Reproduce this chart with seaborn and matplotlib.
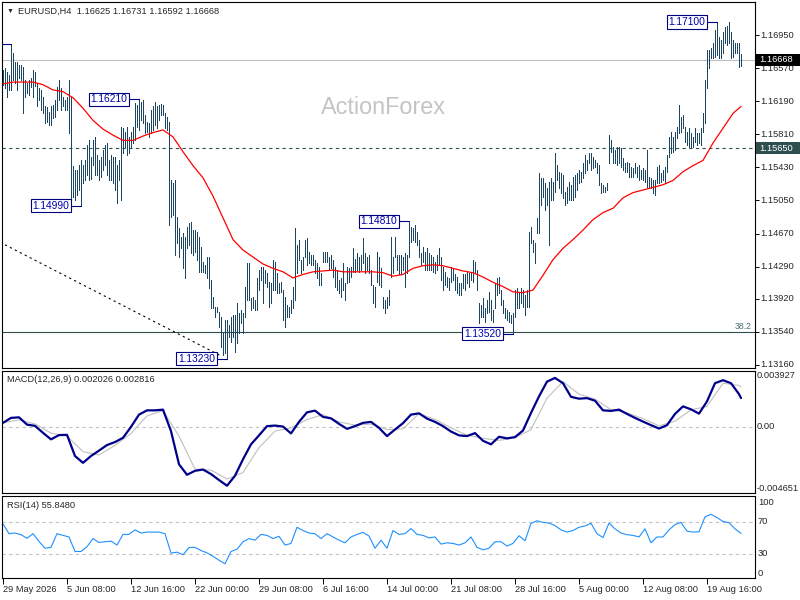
import numpy as np
import seaborn as sns
import matplotlib.pyplot as plt
import matplotlib.transforms as mtransforms
from matplotlib.patches import Rectangle

sns.set_style('white')
plt.rcParams['font.family'] = ['Liberation Sans', 'DejaVu Sans']

# EURUSD H4 bars (high / low of each bar, oldest first)
highs = [
    1.1655, 1.1657, 1.1653, 1.1649, 1.1685, 1.1674, 1.1664, 1.1664, 1.1661, 1.1661,
    1.1658, 1.1643, 1.1640, 1.1643, 1.1646, 1.1655, 1.1653, 1.1640, 1.1634, 1.1632,
    1.1624, 1.1613, 1.1612, 1.1607, 1.1613, 1.1615, 1.1620, 1.1635, 1.1643, 1.1634,
    1.1624, 1.1620, 1.1624, 1.1643, 1.1624, 1.1545, 1.1540, 1.1540, 1.1546, 1.1551,
    1.1546, 1.1551, 1.1569, 1.1574, 1.1555, 1.1574, 1.1578, 1.1557, 1.1551, 1.1555,
    1.1563, 1.1569, 1.1571, 1.1551, 1.1557, 1.1555, 1.1555, 1.1546, 1.1551, 1.1589,
    1.1588, 1.1584, 1.1589, 1.1578, 1.1584, 1.1589, 1.1617, 1.1615, 1.1621, 1.1618,
    1.1620, 1.1603, 1.1595, 1.1594, 1.1609, 1.1613, 1.1618, 1.1613, 1.1615, 1.1616,
    1.1615, 1.1605, 1.1601, 1.1595, 1.1528, 1.1525, 1.1528, 1.1486, 1.1473, 1.1463,
    1.1468, 1.1463, 1.1474, 1.1479, 1.1480, 1.1471, 1.1471, 1.1469, 1.1463, 1.1452,
    1.1434, 1.1431, 1.1440, 1.1440, 1.1414, 1.1394, 1.1383, 1.1383, 1.1377, 1.1371,
    1.1353, 1.1368, 1.1368, 1.1362, 1.1371, 1.1373, 1.1373, 1.1387, 1.1376, 1.1379,
    1.1376, 1.1406, 1.1433, 1.1433, 1.1393, 1.1394, 1.1391, 1.1416, 1.1425, 1.1429,
    1.1429, 1.1425, 1.1422, 1.1411, 1.1410, 1.1437, 1.1434, 1.1422, 1.1410, 1.1411,
    1.1402, 1.1394, 1.1385, 1.1383, 1.1391, 1.1406, 1.1473, 1.1454, 1.1460, 1.1437,
    1.1440, 1.1460, 1.1462, 1.1446, 1.1442, 1.1442, 1.1437, 1.1433, 1.1429, 1.1422,
    1.1446, 1.1446, 1.1446, 1.1440, 1.1442, 1.1437, 1.1429, 1.1425, 1.1414, 1.1416,
    1.1433, 1.1410, 1.1429, 1.1427, 1.1429, 1.1450, 1.1438, 1.1445, 1.1440, 1.1442,
    1.1462, 1.1445, 1.1440, 1.1442, 1.1425, 1.1408, 1.1406, 1.1446, 1.1440, 1.1427,
    1.1394, 1.1391, 1.1394, 1.1402, 1.1463, 1.1440, 1.1463, 1.1442, 1.1442, 1.1442,
    1.1440, 1.1445, 1.1442, 1.1481, 1.1474, 1.1473, 1.1477, 1.1469, 1.1460, 1.1445,
    1.1452, 1.1446, 1.1450, 1.1445, 1.1442, 1.1440, 1.1434, 1.1442, 1.1450, 1.1440,
    1.1429, 1.1423, 1.1417, 1.1416, 1.1429, 1.1427, 1.1420, 1.1417, 1.1410, 1.1410,
    1.1420, 1.1420, 1.1423, 1.1422, 1.1423, 1.1437, 1.1434, 1.1425, 1.1387, 1.1385,
    1.1393, 1.1381, 1.1391, 1.1400, 1.1391, 1.1379, 1.1410, 1.1416, 1.1417, 1.1402,
    1.1391, 1.1381, 1.1379, 1.1377, 1.1373, 1.1376, 1.1402, 1.1404, 1.1400, 1.1404,
    1.1402, 1.1396, 1.1402, 1.1469, 1.1474, 1.1460, 1.1456, 1.1485, 1.1537, 1.1531,
    1.1531, 1.1525, 1.1519, 1.1526, 1.1531, 1.1526, 1.1560, 1.1546, 1.1538, 1.1537,
    1.1534, 1.1515, 1.1520, 1.1526, 1.1523, 1.1532, 1.1534, 1.1537, 1.1540, 1.1538,
    1.1548, 1.1557, 1.1551, 1.1560, 1.1560, 1.1555, 1.1551, 1.1548, 1.1546, 1.1525,
    1.1523, 1.1520, 1.1525, 1.1580, 1.1574, 1.1566, 1.1563, 1.1566, 1.1566, 1.1565,
    1.1554, 1.1548, 1.1549, 1.1548, 1.1543, 1.1542, 1.1548, 1.1543, 1.1546, 1.1540,
    1.1542, 1.1540, 1.1563, 1.1532, 1.1531, 1.1528, 1.1528, 1.1543, 1.1546, 1.1537,
    1.1540, 1.1543, 1.1557, 1.1578, 1.1584, 1.1578, 1.1584, 1.1589, 1.1615, 1.1601,
    1.1603, 1.1589, 1.1584, 1.1588, 1.1583, 1.1578, 1.1588, 1.1583, 1.1583, 1.1588,
    1.1605, 1.1643, 1.1678, 1.1678, 1.1680, 1.1686, 1.1701, 1.1710, 1.1693, 1.1689,
    1.1698, 1.1704, 1.1706, 1.1710, 1.1698, 1.1689, 1.1686, 1.1686, 1.1686, 1.1673,
]
lows = [
    1.1638, 1.1634, 1.1624, 1.1632, 1.1632, 1.1643, 1.1640, 1.1632, 1.1646, 1.1643,
    1.1605, 1.1624, 1.1628, 1.1626, 1.1635, 1.1624, 1.1636, 1.1613, 1.1620, 1.1609,
    1.1605, 1.1594, 1.1595, 1.1592, 1.1592, 1.1600, 1.1601, 1.1609, 1.1620, 1.1609,
    1.1613, 1.1609, 1.1609, 1.1583, 1.1505, 1.1509, 1.1505, 1.1511, 1.1517, 1.1499,
    1.1525, 1.1528, 1.1534, 1.1528, 1.1530, 1.1546, 1.1534, 1.1534, 1.1528, 1.1532,
    1.1540, 1.1546, 1.1534, 1.1528, 1.1528, 1.1525, 1.1517, 1.1502, 1.1528, 1.1505,
    1.1560, 1.1566, 1.1557, 1.1560, 1.1566, 1.1571, 1.1574, 1.1589, 1.1586, 1.1597,
    1.1594, 1.1583, 1.1584, 1.1578, 1.1583, 1.1586, 1.1592, 1.1588, 1.1597, 1.1603,
    1.1603, 1.1588, 1.1586, 1.1477, 1.1486, 1.1488, 1.1442, 1.1456, 1.1440, 1.1450,
    1.1427, 1.1416, 1.1450, 1.1454, 1.1445, 1.1442, 1.1446, 1.1437, 1.1423, 1.1423,
    1.1423, 1.1422, 1.1416, 1.1404, 1.1381, 1.1381, 1.1371, 1.1377, 1.1360, 1.1337,
    1.1328, 1.1330, 1.1323, 1.1348, 1.1342, 1.1348, 1.1331, 1.1341, 1.1353, 1.1364,
    1.1353, 1.1371, 1.1391, 1.1391, 1.1379, 1.1381, 1.1379, 1.1379, 1.1402, 1.1414,
    1.1387, 1.1410, 1.1406, 1.1383, 1.1387, 1.1402, 1.1402, 1.1399, 1.1399, 1.1400,
    1.1368, 1.1360, 1.1371, 1.1371, 1.1376, 1.1381, 1.1391, 1.1422, 1.1437, 1.1422,
    1.1425, 1.1440, 1.1431, 1.1433, 1.1431, 1.1431, 1.1422, 1.1416, 1.1408, 1.1408,
    1.1434, 1.1434, 1.1434, 1.1425, 1.1427, 1.1417, 1.1406, 1.1402, 1.1399, 1.1394,
    1.1402, 1.1391, 1.1410, 1.1411, 1.1417, 1.1423, 1.1423, 1.1425, 1.1423, 1.1425,
    1.1433, 1.1422, 1.1425, 1.1422, 1.1408, 1.1387, 1.1383, 1.1411, 1.1408, 1.1406,
    1.1381, 1.1376, 1.1381, 1.1385, 1.1417, 1.1422, 1.1440, 1.1425, 1.1420, 1.1420,
    1.1425, 1.1406, 1.1422, 1.1440, 1.1457, 1.1460, 1.1457, 1.1454, 1.1440, 1.1431,
    1.1434, 1.1425, 1.1425, 1.1425, 1.1425, 1.1423, 1.1422, 1.1425, 1.1431, 1.1414,
    1.1402, 1.1408, 1.1406, 1.1402, 1.1411, 1.1414, 1.1402, 1.1399, 1.1396, 1.1396,
    1.1404, 1.1402, 1.1410, 1.1406, 1.1414, 1.1411, 1.1423, 1.1402, 1.1364, 1.1371,
    1.1371, 1.1365, 1.1376, 1.1377, 1.1368, 1.1365, 1.1381, 1.1396, 1.1399, 1.1385,
    1.1376, 1.1370, 1.1368, 1.1365, 1.1364, 1.1352, 1.1371, 1.1381, 1.1381, 1.1387,
    1.1383, 1.1373, 1.1383, 1.1383, 1.1456, 1.1446, 1.1433, 1.1468, 1.1468, 1.1500,
    1.1509, 1.1494, 1.1500, 1.1454, 1.1505, 1.1505, 1.1515, 1.1528, 1.1519, 1.1513,
    1.1508, 1.1500, 1.1502, 1.1505, 1.1505, 1.1505, 1.1509, 1.1517, 1.1525, 1.1526,
    1.1531, 1.1537, 1.1540, 1.1548, 1.1540, 1.1542, 1.1543, 1.1537, 1.1523, 1.1513,
    1.1515, 1.1515, 1.1517, 1.1548, 1.1561, 1.1548, 1.1548, 1.1546, 1.1548, 1.1543,
    1.1540, 1.1538, 1.1538, 1.1532, 1.1532, 1.1532, 1.1537, 1.1532, 1.1528, 1.1530,
    1.1528, 1.1526, 1.1520, 1.1520, 1.1519, 1.1513, 1.1511, 1.1525, 1.1525, 1.1526,
    1.1528, 1.1525, 1.1538, 1.1555, 1.1560, 1.1561, 1.1563, 1.1577, 1.1583, 1.1584,
    1.1588, 1.1572, 1.1569, 1.1566, 1.1565, 1.1566, 1.1572, 1.1569, 1.1571, 1.1569,
    1.1584, 1.1594, 1.1634, 1.1657, 1.1669, 1.1669, 1.1670, 1.1672, 1.1669, 1.1669,
    1.1674, 1.1686, 1.1684, 1.1686, 1.1669, 1.1670, 1.1674, 1.1674, 1.1658, 1.1659,
]

# red moving average, read every 5th bar
ma_idx = list(range(0, 366, 5)) + [369]
ma_values = [
    1.1639, 1.1641, 1.1641, 1.1641, 1.1638, 1.1632, 1.1630, 1.1623, 1.1611, 1.1597,
    1.1587, 1.1580, 1.1574, 1.1574, 1.1579, 1.1583, 1.1586, 1.1578, 1.1561, 1.1545,
    1.1531, 1.1510, 1.1485, 1.1460, 1.1448, 1.1440, 1.1432, 1.1427, 1.1423, 1.1416,
    1.1420, 1.1423, 1.1424, 1.1425, 1.1423, 1.1423, 1.1423, 1.1423, 1.1422, 1.1418,
    1.1420, 1.1427, 1.1430, 1.1431, 1.1430, 1.1427, 1.1424, 1.1422, 1.1417, 1.1411,
    1.1406, 1.1400, 1.1399, 1.1402, 1.1419, 1.1437, 1.1450, 1.1460, 1.1471, 1.1483,
    1.1491, 1.1496, 1.1508, 1.1514, 1.1517, 1.1520, 1.1523, 1.1528, 1.1538, 1.1545,
    1.1551, 1.1571, 1.1588, 1.1605, 1.1613,
]

# MACD(12,26,9): main line every 4th bar, signal every 8th bar
macd_idx = list(range(0, 369, 4)) + [369]
macd_main = [
    0.00028, 0.00063, 0.00067, 0.00016, 0.00007, -0.00042, -0.00088, -0.00058, -0.00056, -0.00205,
    -0.00253, -0.00205, -0.00167, -0.00128, -0.00107, -0.00077, 0.00000, 0.00086, 0.00116, 0.00116,
    0.00121, -0.00030, -0.00263, -0.00337, -0.00309, -0.00300, -0.00332, -0.00374, -0.00414, -0.00344,
    -0.00228, -0.00123, -0.00060, 0.00005, 0.00009, 0.00002, -0.00046, 0.00035, 0.00102, 0.00114,
    0.00070, 0.00060, 0.00021, -0.00014, 0.00005, 0.00028, 0.00035, -0.00007, -0.00065, -0.00019,
    0.00026, 0.00086, 0.00095, 0.00058, 0.00035, 0.00005, -0.00033, -0.00060, -0.00065, -0.00044,
    -0.00098, -0.00123, -0.00070, -0.00081, -0.00072, -0.00026, 0.00098, 0.00214, 0.00318, 0.00344,
    0.00307, 0.00211, 0.00198, 0.00202, 0.00184, 0.00116, 0.00112, 0.00121, 0.00091, 0.00063,
    0.00037, 0.00012, -0.00012, 0.00012, 0.00091, 0.00144, 0.00123, 0.00093, 0.00179, 0.00307,
    0.00328, 0.00307, 0.00230, 0.002026,
]
signal_idx = list(range(0, 369, 8)) + [369]
macd_signal = [
    0.00028, 0.00049, 0.00021, -0.00044, -0.00065, -0.00174, -0.00198, -0.00130, -0.00046, 0.00077,
    0.00114, -0.00065, -0.00297, -0.00304, -0.00367, -0.00321, -0.00146, -0.00030, -0.00007, 0.00051,
    0.00086, 0.00035, 0.00012, 0.00019, -0.00019, -0.00014, 0.00093, 0.00053, -0.00007, -0.00058,
    -0.00081, -0.00095, -0.00077, -0.00019, 0.00202, 0.00318, 0.00230, 0.00195, 0.00121, 0.00098,
    0.00058, 0.00007, 0.00040, 0.00119, 0.00144, 0.00307, 0.00291, 0.002816,
]

# RSI(14), every 3rd bar
rsi_idx = list(range(0, 370, 3))
rsi_values = [
    67.5, 55.4, 56.2, 54.1, 49.7, 55.4, 45.7, 37.2, 38.4, 55.4,
    53.3, 51.3, 33.1, 33.1, 39.2, 49.3, 44.4, 45.3, 46.1, 41.2,
    54.5, 54.5, 60.2, 56.2, 57.4, 57.4, 57.4, 55.4, 31.1, 32.3,
    29.1, 38.0, 38.4, 34.3, 31.5, 27.1, 22.2, 17.8, 33.1, 36.0,
    45.3, 49.3, 47.3, 54.5, 53.3, 49.3, 52.1, 41.2, 43.2, 63.4,
    59.4, 56.2, 55.4, 49.3, 55.4, 51.3, 47.3, 44.0, 51.3, 54.5,
    57.0, 52.5, 37.2, 47.3, 37.2, 59.4, 54.5, 55.4, 61.8, 54.5,
    53.3, 50.1, 51.3, 42.4, 44.0, 43.2, 41.2, 44.0, 51.3, 38.4,
    35.2, 37.2, 45.3, 45.3, 40.0, 43.2, 52.9, 46.5, 68.3, 71.5,
    69.5, 68.7, 65.5, 60.2, 57.4, 59.4, 63.4, 65.1, 68.3, 55.4,
    50.5, 68.7, 61.4, 56.2, 54.1, 53.3, 51.3, 61.4, 44.0, 51.3,
    51.3, 60.2, 66.7, 69.5, 58.6, 57.4, 57.8, 76.4, 79.6, 75.6,
    70.7, 69.1, 61.4, 55.848,
]

price_ticks = [1.16950, 1.16570, 1.16190, 1.15810, 1.15430, 1.15050,
               1.14670, 1.14290, 1.13920, 1.13540, 1.13160]
macd_ticks = [0.003927, 0.0, -0.004651]
macd_tick_labels = ['0.003927', '0.00', '-0.004651']
rsi_ticks = [100, 70, 30, 0]

time_idx = list(range(0, 353, 32))
time_labels = ['29 May 2026', '5 Jun 08:00', '12 Jun 16:00', '22 Jun 00:00',
               '29 Jun 08:00', '6 Jul 16:00', '14 Jul 00:00', '21 Jul 08:00',
               '28 Jul 16:00', '5 Aug 00:00', '12 Aug 08:00', '19 Aug 16:00']

# marked swing highs / lows (bar index, price)
mark_idx = [357, 68, 39, 203, 112, 255]
mark_price = [1.17100, 1.16210, 1.14990, 1.14810, 1.13230, 1.13520]
offscreen_mark_idx = 4
offscreen_mark_price = 1.1685

last_price = 1.16668
support_level = 1.15650
fibo_level = 1.13540
trend_idx = [-1.5, 108.5]
trend_price = [1.1457, 1.1327]

FS = 6.7
BAR_COLOR = '#1b4560'
NAVY = '#000080'
SLATE = '#2f4f4f'

W, H = 800, 600
fig = plt.figure(figsize=(W / 100, H / 100), dpi=100)
fig.patch.set_facecolor('white')


def panel(top, bottom):
    # panels placed in pixels, measured from the top like the terminal window
    return fig.add_axes([2 / W, 1 - bottom / H, 753 / W, (bottom - top) / H])


ax = panel(2, 368)
ax_macd = panel(371, 493)
ax_rsi = panel(496, 578)


def right_labels(a, values, texts, vas, dx=5):
    trans = mtransforms.offset_copy(
        mtransforms.blended_transform_factory(a.transAxes, a.transData),
        fig=fig, x=dx, y=0, units='dots')
    for v, t, va in zip(values, texts, vas):
        a.text(1, v, t, transform=trans, ha='left', va=va, fontsize=FS)


# price panel
bar_idx = np.arange(len(highs))
ax.axhline(last_price, color='#c0c0c0', lw=0.8, zorder=1)
ax.axhline(support_level, color=SLATE, lw=0.8, ls=(0, (3, 3)), zorder=1)
ax.axhline(fibo_level, color=SLATE, lw=0.8, zorder=1)
ax.plot(trend_idx, trend_price, color='black', lw=0.8, ls=(0, (2, 3)), zorder=1)
ax.vlines(bar_idx, lows, highs, color=BAR_COLOR, lw=0.6, antialiased=False, zorder=2)
sns.lineplot(x=ma_idx, y=ma_values, ax=ax, color='red', linewidth=0.9, zorder=3)

# swing labels with their short connector lines
ax.plot([-2, offscreen_mark_idx], [offscreen_mark_price] * 2, color=NAVY, lw=0.8, zorder=4)
for i, p in zip(mark_idx, mark_price):
    ax.plot([i - 5, i], [p, p], color=NAVY, lw=0.8, zorder=4)
    ax.annotate(f'{p:.5f}', xy=(i - 5, p), xytext=(-2, 0), textcoords='offset pixels',
                ha='right', va='center', fontsize=7.4, color='#0000b0',
                bbox=dict(boxstyle='square,pad=0.15', fc='white', ec=NAVY, lw=0.8), zorder=5)

fib_trans = mtransforms.offset_copy(
    mtransforms.blended_transform_factory(ax.transAxes, ax.transData),
    fig=fig, x=-3, y=1, units='dots')
ax.text(1, fibo_level, '38.2', transform=fib_trans, ha='right', va='bottom',
        fontsize=6.3, color='#4f6f6f')

# MACD panel
ax_macd.axhline(0, color='#c0c0c0', lw=0.8, ls=(0, (3, 3)))
sns.lineplot(x=signal_idx, y=macd_signal, ax=ax_macd, color='#c0c0c0', linewidth=0.8)
sns.lineplot(x=macd_idx, y=macd_main, ax=ax_macd, color='#00008b', linewidth=1.6)

# RSI panel
ax_rsi.axhline(70, color='#c0c0c0', lw=0.8, ls=(0, (3, 3)))
ax_rsi.axhline(30, color='#c0c0c0', lw=0.8, ls=(0, (3, 3)))
sns.lineplot(x=rsi_idx, y=rsi_values, ax=ax_rsi, color='#1e90ff', linewidth=0.8)

for a in (ax, ax_macd, ax_rsi):
    a.set_xlim(-0.5, 376)
    a.set_xlabel('')
    a.set_ylabel('')
    a.set_facecolor('white')
    for s in a.spines.values():
        s.set_color('black')
        s.set_linewidth(0.8)
    a.tick_params(axis='y', left=False, right=False, labelleft=False, labelright=False)
    a.tick_params(axis='x', bottom=False, labelbottom=False)

# only the price scale carries tick marks
ax.tick_params(axis='y', right=True, length=3, width=0.7, direction='out', color='black')

ax.set_ylim(1.13125, 1.17330)
ax.set_yticks(price_ticks)
right_labels(ax, price_ticks, [f'{p:.5f}' for p in price_ticks], ['center'] * len(price_ticks))

ax_macd.set_ylim(-0.004651, 0.003927)
ax_macd.set_yticks(macd_ticks)
right_labels(ax_macd, macd_ticks, macd_tick_labels, ['top', 'center', 'bottom'], dx=2)

ax_rsi.set_ylim(0, 102.5)
ax_rsi.set_yticks(rsi_ticks)
right_labels(ax_rsi, rsi_ticks, [str(v) for v in rsi_ticks],
             ['top', 'center', 'center', 'bottom'], dx=3)
ax_rsi.set_xticks(time_idx)
ax_rsi.set_xticklabels(time_labels, ha='left', fontsize=FS)
ax_rsi.tick_params(axis='x', bottom=True, labelbottom=True, length=4, width=0.7,
                   pad=1, direction='out', color='black')

# price boxes on the right scale
for level, face in ((last_price, 'black'), (support_level, SLATE)):
    y = ax.transData.transform((0, level))[1]
    fig.add_artist(Rectangle((756, y - 6), 44, 12, transform=mtransforms.IdentityTransform(),
                             facecolor=face, edgecolor='none', zorder=5))
    fig.text(759 / W, y / H, f'{level:.5f}', color='white', ha='left', va='center',
             fontsize=FS, zorder=6)

# texts
fig.text(383 / W, 1 - 114 / H, 'ActionForex', ha='center', va='baseline',
         fontsize=16.8, color='#c4c4c4')
fig.text(7 / W, 1 - 11 / H, '▼', fontsize=5, va='center')
fig.text(18 / W, 1 - 11 / H, 'EURUSD,H4  1.16625 1.16731 1.16592 1.16668',
         fontsize=FS, va='center')
fig.text(7 / W, 1 - 380 / H, 'MACD(12,26,9) 0.002026 0.002816', fontsize=FS, va='center')
fig.text(7 / W, 1 - 505 / H, 'RSI(14) 55.8480', fontsize=FS, va='center')

fig.savefig('out.png', dpi=100)
